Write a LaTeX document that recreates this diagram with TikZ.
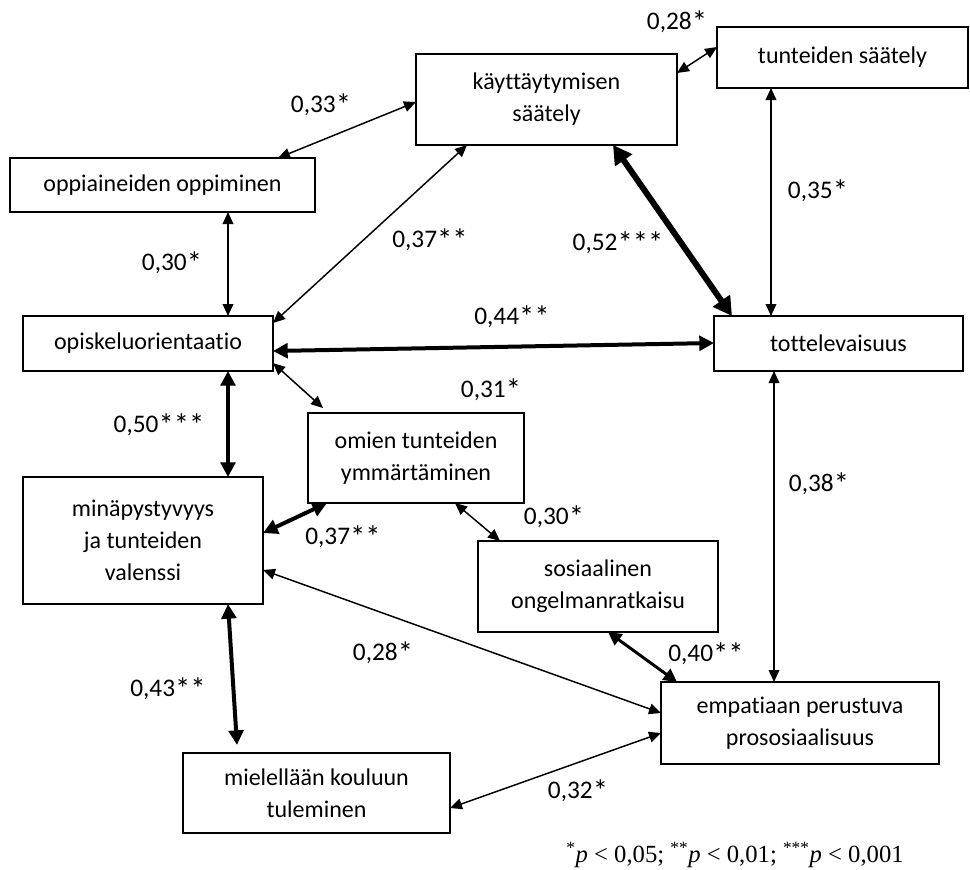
\documentclass[tikz,border=0pt]{standalone}
\usepackage{fontspec}
\setmainfont{Carlito}[Ligatures=NoCommon]
\newfontfamily\notefont{Liberation Serif}
\newcommand\sigstars[1]{\raisebox{-2.5pt}{\fontsize{23}{23}\selectfont #1}}
\usetikzlibrary{arrows.meta,calc}

\begin{document}
\begin{tikzpicture}[x=0.75pt,y=-0.75pt,
  var/.style={draw, line width=1.5pt, inner sep=0pt, outer sep=0pt, align=center,
    font=\fontsize{18}{24}\selectfont},
  coef/.style={inner sep=0pt, font=\fontsize{19}{23}\selectfont},
  thinlink/.style={line width=1.1pt,
    {Triangle[length=9pt,width=8pt]}-{Triangle[length=9pt,width=8pt]}},
  midlink/.style={line width=2.2pt,
    {Triangle[length=10pt,width=10pt]}-{Triangle[length=10pt,width=10pt]}},
  thicklink/.style={line width=3pt,
    {Triangle[length=11pt,width=11pt]}-{Triangle[length=11pt,width=11pt]}},
  heavylink/.style={line width=4.5pt,
    {Triangle[length=14pt,width=15pt]}-{Triangle[length=14pt,width=15pt]}}
]
\useasboundingbox (0,0) rectangle (970,869);

% variables
\node[var, minimum width=195.75pt, minimum height=68.25pt] (kay) at (546.5,99.5) {käyttäytymisen\\säätely};
\node[var, minimum width=188.25pt, minimum height=45.75pt] (tun) at (842.5,57.5) {tunteiden säätely};
\node[var, minimum width=228.75pt, minimum height=40.5pt] (opp) at (162.5,185) {oppiaineiden oppiminen};
\node[var, minimum width=187.5pt, minimum height=41.25pt] (opi) at (148,343.5) {opiskeluorientaatio};
\node[var, minimum width=186.75pt, minimum height=41.25pt] (tot) at (838.5,343.5) {tottelevaisuus};
\node[var, minimum width=162pt, minimum height=67.5pt] (omi) at (416,458) {omien tunteiden\\ymmärtäminen};
\node[var, minimum width=180pt, minimum height=95.25pt] (min) at (143,540.5) {minäpystyvyys\\ja tunteiden\\valenssi};
\node[var, minimum width=180pt, minimum height=68.25pt] (sos) at (598,586.5) {sosiaalinen\\ongelmanratkaisu};
\node[var, minimum width=208.5pt, minimum height=61.5pt] (emp) at (800,723) {empatiaan perustuva\\prososiaalisuus};
\node[var, minimum width=200.25pt, minimum height=60pt] (mie) at (316.5,793) {mielellään kouluun\\tuleminen};

% correlations
\draw[thinlink]  ($(kay.north west)+(0,48)$) -- ($(opp.north west)+(268,0)$);
\draw[thinlink]  ($(kay.north east)+(0,19)$) -- ($(tun.north west)+(0,20)$);
\draw[thinlink]  ($(opp.south west)+(218,0)$) -- ($(opi.north west)+(205,0)$);
\draw[thinlink]  ($(kay.south west)+(51,0)$) -- ($(opi.north east)+(0,7)$);
\draw[heavylink] ($(kay.south west)+(197,0)$) -- ($(tot.north west)+(18,0)$);
\draw[thinlink]  ($(tun.south west)+(54,0)$) -- ($(tot.north west)+(57,0)$);
\draw[thicklink] ($(opi.north east)+(0,35)$) -- ($(tot.north west)+(0,27)$);
\draw[thinlink]  ($(opi.south east)+(0,-8)$) -- ($(omi.north west)+(15,-5)$);
\draw[thicklink] ($(min.north east)+(0,56)$) -- ($(omi.south west)+(19,0)$);
\draw[thinlink]  ($(omi.south west)+(147,0)$) -- ($(sos.north west)+(22,0)$);
\draw[thicklink] ($(opi.south west)+(205,0)$) -- ($(min.north west)+(205,0)$);
\draw[thinlink]  ($(tot.south west)+(60,0)$) -- ($(emp.north west)+(113,0)$);
\draw[midlink]   ($(sos.south west)+(130,0)$) -- ($(emp.north west)+(16,0)$);
\draw[thinlink]  ($(min.north east)+(0,93)$) -- ($(emp.north west)+(0,31)$);
\draw[thicklink] ($(min.south west)+(205,0)$) -- ($(mie.north west)+(54,-8)$);
\draw[thinlink]  ($(mie.north east)+(0,55)$) -- ($(emp.north west)+(0,51)$);

% coefficients
\node[coef] (c33)  at (321,105) {0,33\sigstars{*}};
\node[coef] (c28a) at (677,22)  {0,28\sigstars{*}};
\node[coef] (c30a) at (172,263) {0,30\sigstars{*}};
\node[coef] (c37a) at (430,240) {0,37\sigstars{**}};
\node[coef] (c52)  at (618,243) {0,52\sigstars{***}};
\node[coef] (c35)  at (818,191) {0,35\sigstars{*}};
\node[coef] (c44)  at (512,317) {0,44\sigstars{**}};
\node[coef] (c31)  at (491,390) {0,31\sigstars{*}};
\node[coef] (c37b) at (343,537) {0,37\sigstars{**}};
\node[coef] (c30b) at (554,517) {0,30\sigstars{*}};
\node[coef] (c50)  at (159,425) {0,50\sigstars{***}};
\node[coef] (c38)  at (819,484) {0,38\sigstars{*}};
\node[coef] (c40)  at (706,654) {0,40\sigstars{**}};
\node[coef] (c28b) at (383,653) {0,28\sigstars{*}};
\node[coef] (c43)  at (168,689) {0,43\sigstars{**}};
\node[coef] (c32)  at (578,791) {0,32\sigstars{*}};

% significance levels
\node[inner sep=0pt, font=\notefont\fontsize{18.5}{21}\selectfont] (note) at (735,855)
  {\textsuperscript{*}\textit{p} < 0,05; \textsuperscript{**}\textit{p} < 0,01; \textsuperscript{***}\textit{p} < 0,001};
\end{tikzpicture}
\end{document}
